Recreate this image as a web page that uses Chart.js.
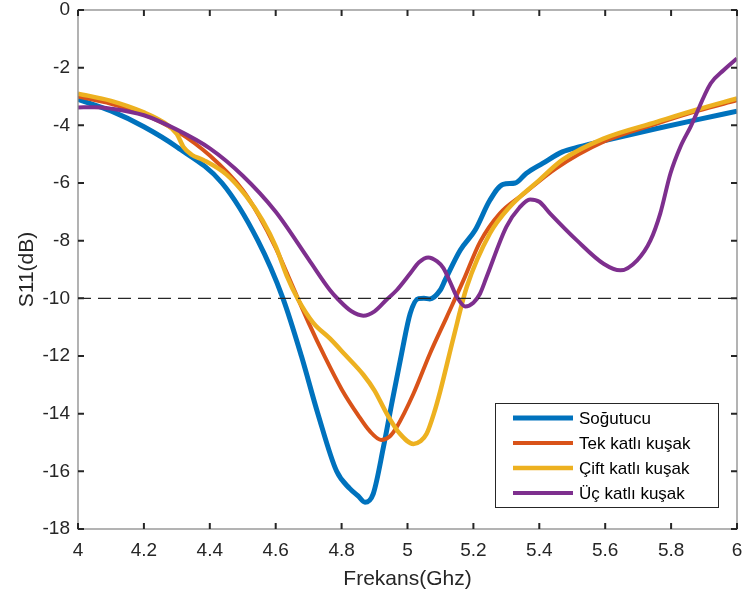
<!DOCTYPE html>
<html>
<head>
<meta charset="utf-8">
<script src="https://cdn.jsdelivr.net/npm/chart.js@4/dist/chart.umd.min.js"></script>
<style>
  html, body { margin: 0; padding: 0; background: #ffffff; }
  #wrap { width: 743px; height: 601px; }
</style>
</head>
<body>
<div id="wrap"><canvas id="c" width="743" height="601"></canvas></div>
<script>
// ---------- DATA ----------
const seriesNames = ['Soğutucu', 'Tek katlı kuşak', 'Çift katlı kuşak', 'Üç katlı kuşak'];

const freqSogutucu = [4.00, 4.10, 4.20, 4.30, 4.437, 4.546, 4.622, 4.678, 4.728, 4.785, 4.825, 4.850, 4.871, 4.896, 4.927, 4.952, 4.982, 5.008, 5.033, 5.050, 5.068, 5.099, 5.114, 5.16, 5.205, 5.25, 5.29, 5.327, 5.36, 5.41, 5.47, 5.52, 5.605, 5.757, 5.88, 6.00];
const s11Sogutucu  = [-3.10, -3.50, -4.05, -4.75, -6.00, -8.00, -10.0, -12.0, -14.0, -16.0, -16.6, -16.85, -17.07, -16.78, -15.16, -13.66, -11.92, -10.53, -10.01, -10.00, -10.02, -9.72, -9.37, -8.33, -7.64, -6.60, -6.05, -6.00, -5.67, -5.32, -4.92, -4.75, -4.51, -4.11, -3.80, -3.51];

const freqTek = [4.00, 4.10, 4.20, 4.30, 4.40, 4.50, 4.55, 4.60, 4.65, 4.70, 4.75, 4.80, 4.85, 4.885, 4.92, 4.945, 4.967, 5.018, 5.068, 5.119, 5.17, 5.22, 5.28, 5.35, 5.45, 5.595, 5.757, 5.88, 6.00];
const s11Tek  = [-3.00, -3.25, -3.62, -4.20, -5.05, -6.25, -7.15, -8.25, -9.55, -10.85, -12.05, -13.15, -14.05, -14.60, -14.91, -14.80, -14.47, -13.31, -11.92, -10.65, -9.37, -8.05, -7.06, -6.40, -5.50, -4.57, -3.94, -3.50, -3.13];

const freqCift = [4.00, 4.10, 4.20, 4.26, 4.30, 4.32, 4.345, 4.38, 4.45, 4.51, 4.56, 4.60, 4.633, 4.668, 4.714, 4.765, 4.81, 4.866, 4.90, 4.937, 4.977, 5.018, 5.04, 5.058, 5.08, 5.10, 5.14, 5.18, 5.25, 5.31, 5.40, 5.47, 5.595, 5.757, 5.88, 6.00];
const s11Cift  = [-2.90, -3.15, -3.55, -3.90, -4.30, -4.75, -5.02, -5.20, -5.70, -6.45, -7.30, -8.20, -9.20, -10.04, -10.85, -11.40, -11.95, -12.65, -13.20, -14.00, -14.70, -15.05, -14.95, -14.70, -14.00, -13.19, -11.34, -9.60, -7.75, -6.83, -5.90, -5.20, -4.46, -3.88, -3.45, -3.07];

const freqUc = [4.00, 4.05, 4.10, 4.20, 4.30, 4.40, 4.50, 4.60, 4.70, 4.765, 4.79, 4.83, 4.866, 4.90, 4.937, 4.967, 5.008, 5.035, 5.063, 5.09, 5.109, 5.13, 5.15, 5.175, 5.20, 5.22, 5.24, 5.30, 5.34, 5.372, 5.40, 5.433, 5.514, 5.595, 5.646, 5.697, 5.737, 5.767, 5.798, 5.828, 5.859, 5.92, 5.96, 6.00];
const s11Uc  = [-3.38, -3.37, -3.42, -3.65, -4.15, -4.80, -5.75, -7.00, -8.65, -9.72, -10.04, -10.45, -10.60, -10.45, -10.04, -9.72, -9.14, -8.75, -8.58, -8.72, -8.95, -9.45, -9.95, -10.28, -10.15, -9.84, -9.26, -7.52, -6.85, -6.57, -6.65, -7.06, -7.99, -8.80, -9.03, -8.68, -8.00, -7.06, -5.67, -4.75, -4.05, -2.55, -2.08, -1.68];

const thresholdFreq = [4, 6];
const thresholdS11  = [-10, -10];

const xTicks = [4, 4.2, 4.4, 4.6, 4.8, 5, 5.2, 5.4, 5.6, 5.8, 6];
const yTicks = [0, -2, -4, -6, -8, -10, -12, -14, -16, -18];

const seriesColors = ['#0072BD', '#D95319', '#EDB120', '#7E2F8E'];
const seriesWidths = [5, 4, 4.5, 4];

// ---------- BUILD ----------
const pts = (xs, ys) => xs.map((x, i) => ({ x: x, y: ys[i] }));
const allSeries = [
  pts(freqSogutucu, s11Sogutucu),
  pts(freqTek, s11Tek),
  pts(freqCift, s11Cift),
  pts(freqUc, s11Uc)
];

const datasets = allSeries.map((d, i) => ({
  label: seriesNames[i],
  data: d,
  borderColor: seriesColors[i],
  backgroundColor: seriesColors[i],
  borderWidth: seriesWidths[i],
  pointRadius: 0,
  cubicInterpolationMode: 'monotone',
  fill: false,
  order: 4 - i
}));
datasets.push({
  label: '__threshold',
  data: pts(thresholdFreq, thresholdS11),
  borderColor: '#262626',
  borderWidth: 1.2,
  borderDash: [13, 7],
  pointRadius: 0,
  fill: false,
  order: -1
});

const FONT = "'Liberation Sans', Arial, Helvetica, sans-serif";
const TXT = '#262626';

const frameAndLegend = {
  id: 'frameAndLegend',
  afterDatasetsDraw(chart) {
    const { ctx, chartArea: a, scales: { x, y } } = chart;
    ctx.save();
    ctx.strokeStyle = '#8a8a8a';
    ctx.lineWidth = 1.3;
    ctx.strokeRect(a.left, a.top, a.right - a.left, a.bottom - a.top);
    ctx.strokeStyle = TXT;
    ctx.lineWidth = 2;
    const L = 6;
    ctx.beginPath();
    xTicks.forEach(v => {
      const px = x.getPixelForValue(v);
      ctx.moveTo(px, a.bottom); ctx.lineTo(px, a.bottom - L);
      ctx.moveTo(px, a.top); ctx.lineTo(px, a.top + L);
    });
    yTicks.forEach(v => {
      const py = y.getPixelForValue(v);
      ctx.moveTo(a.left, py); ctx.lineTo(a.left + L, py);
      ctx.moveTo(a.right, py); ctx.lineTo(a.right - L, py);
    });
    ctx.stroke();
    ctx.restore();
  },
  afterDraw(chart) {
    const { ctx } = chart;
    const bx = 495.5, by = 403.5, bw = 223, bh = 104;
    ctx.save();
    ctx.fillStyle = '#ffffff';
    ctx.fillRect(bx, by, bw, bh);
    ctx.strokeStyle = '#262626';
    ctx.lineWidth = 1;
    ctx.strokeRect(bx, by, bw, bh);
    const rows = [418, 443, 468, 493];
    ctx.font = '17px ' + FONT;
    ctx.textBaseline = 'middle';
    ctx.textAlign = 'left';
    chart.data.datasets.slice(0, 4).forEach((ds, i) => {
      ctx.strokeStyle = ds.borderColor;
      ctx.lineWidth = ds.borderWidth;
      ctx.beginPath();
      ctx.moveTo(513, rows[i]);
      ctx.lineTo(573, rows[i]);
      ctx.stroke();
      ctx.fillStyle = '#000000';
      ctx.fillText(ds.label, 579, rows[i] + 1);
    });
    ctx.restore();
  }
};

new Chart(document.getElementById('c'), {
  type: 'line',
  data: { datasets: datasets },
  options: {
    responsive: false,
    animation: false,
    devicePixelRatio: 1,
    layout: { autoPadding: false, padding: { top: 10, right: 6, left: 0, bottom: 0 } },
    plugins: { legend: { display: false }, tooltip: { enabled: false } },
    scales: {
      x: {
        type: 'linear',
        min: 4, max: 6,
        afterFit: s => { s.height = 72; s.paddingLeft = 0; s.paddingRight = 0; },
        afterBuildTicks: s => { s.ticks = xTicks.map(v => ({ value: v })); },
        grid: { display: false, drawTicks: false },
        border: { display: false },
        ticks: {
          padding: 10,
          color: TXT,
          font: { family: FONT, size: 19 },
          maxRotation: 0,
          autoSkip: false,
          callback: v => String(+(+v).toFixed(1))
        },
        title: {
          display: true,
          text: 'Frekans(Ghz)',
          color: TXT,
          font: { family: FONT, size: 21 },
          padding: { top: 0, bottom: 9 }
        }
      },
      y: {
        type: 'linear',
        min: -18, max: 0,
        afterFit: s => { s.width = 78; s.paddingTop = 0; s.paddingBottom = 0; },
        afterBuildTicks: s => { s.ticks = yTicks.map(v => ({ value: v })); },
        grid: { display: false, drawTicks: false },
        border: { display: false },
        ticks: {
          padding: 8,
          color: TXT,
          font: { family: FONT, size: 19 },
          autoSkip: false,
          callback: v => String(v)
        },
        title: {
          display: true,
          text: 'S11(dB)',
          color: TXT,
          font: { family: FONT, size: 21 },
          padding: { top: 15, bottom: 0 }
        }
      }
    }
  },
  plugins: [frameAndLegend]
});
</script>
</body>
</html>
